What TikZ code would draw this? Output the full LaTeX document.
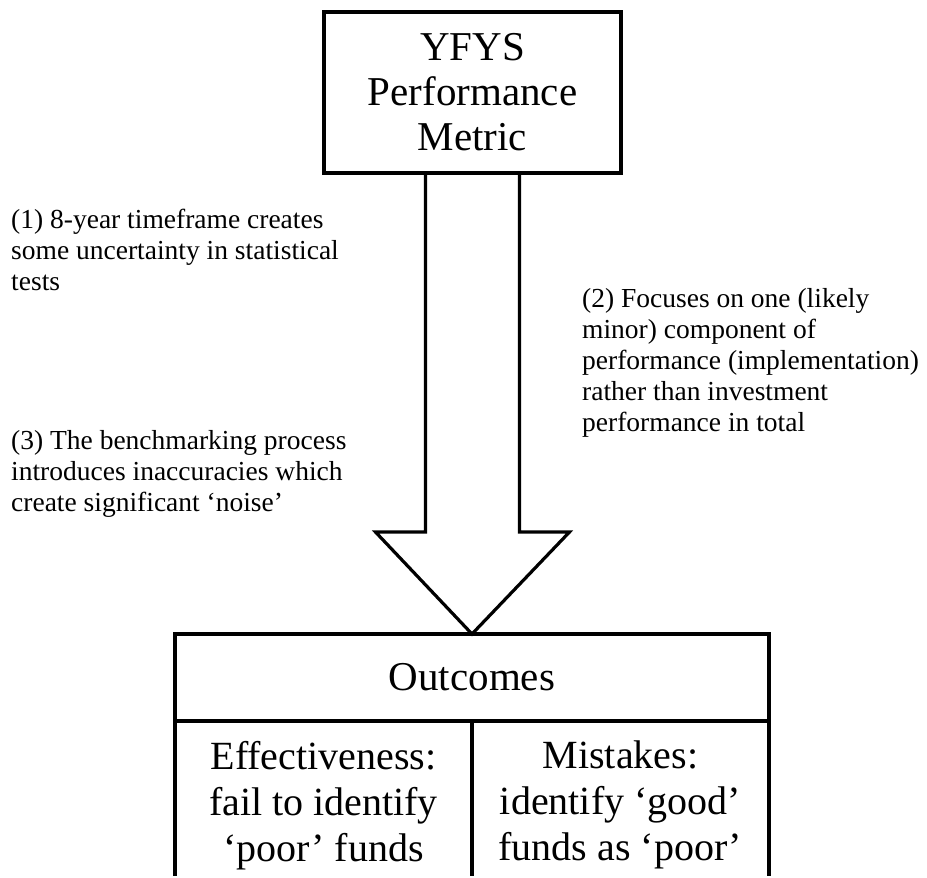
\documentclass[tikz,border=0pt]{standalone}
\usepackage{fontspec}
\setmainfont{Liberation Serif}
\usepackage{tikz}
\usetikzlibrary{
  arrows.meta,
  positioning,
  calc
}

\begin{document}
\begin{tikzpicture}[
      x=1pt, y=-1pt,
      line join=miter,
      boxline/.style={line width=4pt, black},
      metricbox/.style={draw, line width=4pt, minimum width=297pt, minimum height=161pt,
                   outer sep=0pt, inner sep=0pt, align=center,
                   font=\fontsize{41}{45}\selectfont},
      headbox/.style={draw, line width=4pt, minimum width=594pt, minimum height=87pt,
                   outer sep=0pt, inner sep=0pt, font=\fontsize{41}{45}\selectfont},
      cell/.style={anchor=north, inner sep=0pt, align=center,
                   font=\fontsize{40}{46}\selectfont},
      note/.style={anchor=north west, inner sep=0pt, align=left,
                   font=\fontsize{27.5}{31}\selectfont},
      blockarrow/.style={draw, line width=3.2pt, black}
  ]
      \useasboundingbox (0,0) rectangle (927,878);

      % Caixa do topo
      \node[metricbox] (metric) at (472.5,92.5) {YFYS\\Performance\\Metric};

      % Caixa de resultados
      \node[headbox] (outcomes) at (472,677.5) {Outcomes};
      \draw[boxline] (outcomes.south west) -- ++(0,155);
      \draw[boxline] (outcomes.south east) -- ++(0,155);
      \draw[boxline] (outcomes.south) -- ++(0,155);

      \node[cell] (effect) at (323.5,741) {Effectiveness:\\fail to identify\\`poor' funds};
      \node[cell] (mistake) at (620.5,741) {Mistakes:\\identify `good'\\funds as `poor'};

      % Seta grande
      \coordinate (shaftL) at ($(metric.south)+(-47,0)$);
      \coordinate (shaftR) at ($(metric.south)+(47,0)$);
      \draw[blockarrow] (shaftL) -- ++(0,359) -- ++(-50,0) -- (outcomes.north)
          -- ($(shaftR)+(50,359)$) -- ++(-50,0) -- (shaftR);

      % Comentários
      \node[note] (one) at (11,209) {(1) 8-year timeframe creates\\some uncertainty in statistical\\tests};
      \node[note] (three) at (11,430) {(3) The benchmarking process\\introduces inaccuracies which\\create significant `noise'};
      \node[note] (two) at (582,288) {(2) Focuses on one (likely\\minor) component of\\performance (implementation)\\rather than investment\\performance in total};
  \end{tikzpicture}
\end{document}
